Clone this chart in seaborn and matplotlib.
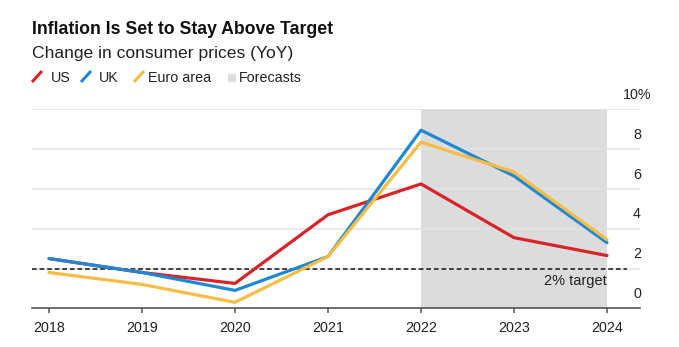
import matplotlib
matplotlib.use("Agg")
import matplotlib.pyplot as plt
import matplotlib.transforms as mtransforms
from matplotlib import font_manager
from matplotlib.lines import Line2D
from matplotlib.patches import Rectangle
import seaborn as sns
import pandas as pd

# Annual consumer price inflation, % YoY (2022-2024 are forecasts)
years = [2018, 2019, 2020, 2021, 2022, 2023, 2024]
us = [2.5, 1.8, 1.25, 4.7, 6.25, 3.55, 2.65]
uk = [2.5, 1.8, 0.9, 2.6, 8.95, 6.65, 3.3]
euro_area = [1.8, 1.2, 0.3, 2.6, 8.35, 6.85, 3.45]
series_names = ["US", "UK", "Euro area"]
forecast_start, forecast_end = 2022, 2024
target = 2
y_ticks = [0, 2, 4, 6, 8, 10]

title = "Inflation Is Set to Stay Above Target"
subtitle = "Change in consumer prices (YoY)"
forecast_label = "Forecasts"
target_label = "2% target"

colors = {"US": "#d8232a", "UK": "#1e88d4", "Euro area": "#f7bd44"}
shade_color = "#dcdcdc"

df = pd.DataFrame({
    "year": years * 3,
    "value": us + uk + euro_area,
    "series": [n for n in series_names for _ in years],
})

sns.set_theme(style="white")
plt.rcParams["font.family"] = ["Liberation Sans", "DejaVu Sans"]

installed = {f.name for f in font_manager.fontManager.ttflist}
if "Liberation Sans Narrow" in installed:
    title_font = dict(family=["Liberation Sans Narrow", "DejaVu Sans"], size=15.4)
else:
    title_font = dict(family=["Liberation Sans", "DejaVu Sans"], size=12.7)

W, H = 679, 347
fig = plt.figure(figsize=(W / 100, H / 100), dpi=100)
ax_left, ax_right, ax_top, ax_bottom = 32, 640, 109.3, 308.3
ax = fig.add_axes([ax_left / W, 1 - ax_bottom / H,
                   (ax_right - ax_left) / W, (ax_bottom - ax_top) / H])

# forecast band and horizontal grid
ax.axvspan(forecast_start, forecast_end, color=shade_color, lw=0, zorder=0)
for v in y_ticks[1:]:
    ax.axhline(v, color="#e2e2e2", lw=1.1, zorder=1)

sns.lineplot(data=df, x="year", y="value", hue="series", hue_order=series_names,
             palette=colors, lw=2.3, ax=ax, legend=False, zorder=3)

# target line
x0, x1 = 2017.817, 2024.355
ax.set_xlim(x0, x1)
ax.set_ylim(0, 10)
dash_end = (627 - ax_left) / (ax_right - ax_left)
ax.axhline(target, xmin=0, xmax=dash_end, color="#333333", lw=1.3,
           linestyle=(0, (2.6, 1.6)), zorder=2)
ax.annotate(target_label, xy=(forecast_end, target), xytext=(0, -4),
            textcoords="offset points", ha="right", va="top",
            fontsize=10.5, color="#222222", zorder=4)

# axes styling
for s in ["top", "right", "left"]:
    ax.spines[s].set_visible(False)
ax.spines["bottom"].set_color("#555555")
ax.spines["bottom"].set_linewidth(1.2)
ax.spines["bottom"].set_zorder(5)
ax.set_xticks(years)
ax.set_xticklabels([str(y) for y in years])
ax.tick_params(axis="x", bottom=True, length=3.8, width=1.1, color="#555555",
               pad=5, labelsize=10.3, labelcolor="#222222")
ax.set_yticks([])
ax.set_xlabel("")
ax.set_ylabel("")

# y labels sit above their gridlines on the right
lab_trans = mtransforms.offset_copy(
    mtransforms.blended_transform_factory(ax.transAxes, ax.transData),
    fig=fig, y=10.3, units="points")
lab_x = (637 - ax_left) / (ax_right - ax_left)
for v in y_ticks:
    txt = f"{v}%" if v == max(y_ticks) else f"{v}"
    ax.text(lab_x, v, txt, transform=lab_trans, ha="center", va="center",
            fontsize=10.3, color="#222222", clip_on=False)

# header
fig.text(32 / W, 1 - 34 / H, title, fontweight="bold", color="#111111",
         va="baseline", ha="left", **title_font)
fig.text(32 / W, 1 - 58 / H, subtitle, fontsize=12.6, color="#222222",
         va="baseline", ha="left")

# legend row
leg_base = 82
slash_x = [32, 81, 134]
text_x = [51, 99, 148]
for name, sx, tx in zip(series_names, slash_x, text_x):
    fig.add_artist(Line2D([sx / W, (sx + 10) / W],
                          [1 - leg_base / H, 1 - (leg_base - 11) / H],
                          transform=fig.transFigure, color=colors[name],
                          lw=2.2, solid_capstyle="butt"))
    fig.text(tx / W, 1 - leg_base / H, name, fontsize=10.3, color="#222222",
             va="baseline", ha="left")
fig.add_artist(Rectangle((228 / W, 1 - 82 / H), 8 / W, 8.5 / H,
                         transform=fig.transFigure, color=shade_color, lw=0))
fig.text(239 / W, 1 - leg_base / H, forecast_label, fontsize=10.3,
         color="#222222", va="baseline", ha="left")

fig.savefig("out.png", dpi=100, facecolor="white")
